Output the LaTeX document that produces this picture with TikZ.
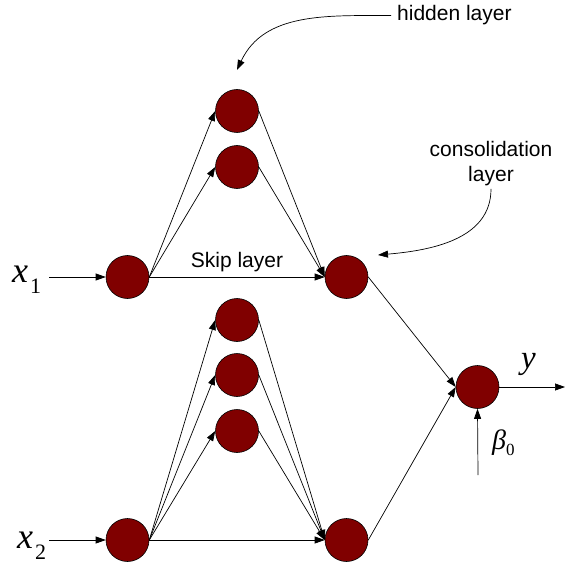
\documentclass[tikz,border=0pt]{standalone}
\usepackage{fontspec}
\setmainfont{Liberation Sans}
\newfontfamily\mathserif{Liberation Serif}
\usetikzlibrary{arrows.meta}
\definecolor{neuronred}{RGB}{128,0,0}

\begin{document}
\begin{tikzpicture}[x=1pt, y=-1pt,
    neuron/.style={circle, draw=black, line width=0.6pt, fill=neuronred, minimum size=43pt, inner sep=0pt},
    link/.style={line width=0.7pt, -{Triangle[length=10pt, width=7pt]}},
    caption/.style={font=\fontsize{21}{25}\selectfont, inner sep=0pt}]

	\useasboundingbox (0,0) rectangle (570,564);

	% Column positions
	\def\incol{127.5}
	\def\hidcol{237}
	\def\concol{346.5}

	% Input nodes
	\node[neuron] (in1) at (\incol, 277) {};
	\node[neuron] (in2) at (\incol, 540) {};

	% Hidden nodes
	\node[neuron] (h1) at (\hidcol, 111) {};
	\node[neuron] (h2) at (\hidcol, 167) {};
	\node[neuron] (h3) at (\hidcol, 320) {};
	\node[neuron] (h4) at (\hidcol, 375) {};
	\node[neuron] (h5) at (\hidcol, 431) {};

	% Consolidation nodes
	\node[neuron] (c1) at (\concol, 277) {};
	\node[neuron] (c2) at (\concol, 540) {};

	% Output node
	\node[neuron] (out) at (477.5, 387) {};

	% Free ends
	\coordinate (x1src) at (49, 277);
	\coordinate (x2src) at (49, 540);
	\coordinate (ysink) at (565, 387);
	\coordinate (b0src) at (478, 475);
	\coordinate (hidtip) at (237, 70);
	\coordinate (contip) at (378, 255);

	% Inputs
	\draw[link] (x1src) -- (in1);
	\draw[link] (x2src) -- (in2);

	% First block
	\draw[link] (in1.east) -- (h1.west);
	\draw[link] (in1.east) -- (h2.west);
	\draw[link] (h1.east) -- (c1.west);
	\draw[link] (h2.east) -- (c1.west);
	\draw[link] (in1.east) -- node[caption, above=5pt] (skip) {Skip layer} (c1.west);

	% Second block
	\foreach \h in {h3, h4, h5} {
		\draw[link] (in2.east) -- (\h.west);
		\draw[link] (\h.east) -- (c2.west);
	}
	\draw[link] (in2.east) -- (c2.west);

	% Output
	\draw[link] (c1.east) -- (out.west);
	\draw[link] (c2.east) -- (out.west);
	\draw[link] (out.east) -- (ysink);
	\draw[link] (b0src) -- (out.south);

	% Labels
	\node[anchor=base west, inner sep=0pt] (lx1) at (12, 282)
		{\mathserif\fontsize{36}{36}\selectfont\textit{x}\raisebox{-11pt}{\fontsize{22}{22}\selectfont\kern2pt 1}};
	\node[anchor=base west, inner sep=0pt] (lx2) at (17, 548)
		{\mathserif\fontsize{36}{36}\selectfont\textit{x}\raisebox{-11pt}{\fontsize{22}{22}\selectfont\kern2pt 2}};
	\node[anchor=base west, inner sep=0pt] (ly) at (521, 368)
		{\mathserif\fontsize{33}{33}\selectfont\textit{y}};
	\node[anchor=base west, inner sep=0pt] (lb0) at (492, 449)
		{\mathserif\fontsize{28}{28}\selectfont\textit{β}\raisebox{-6pt}{\fontsize{17}{17}\selectfont 0}};

	% Annotations
	\node[caption, anchor=base west, inner xsep=6pt] (hidtxt) at (391, 21) {hidden layer};
	\node[caption, anchor=north, align=center] (contxt) at (491, 141) {consolidation\\layer};
	\draw[link] (hidtxt.west) to[out=180, in=65] (hidtip);
	\draw[link] ([yshift=-3pt]contxt.south) to[out=-90, in=5] (contip);

\end{tikzpicture}
\end{document}
